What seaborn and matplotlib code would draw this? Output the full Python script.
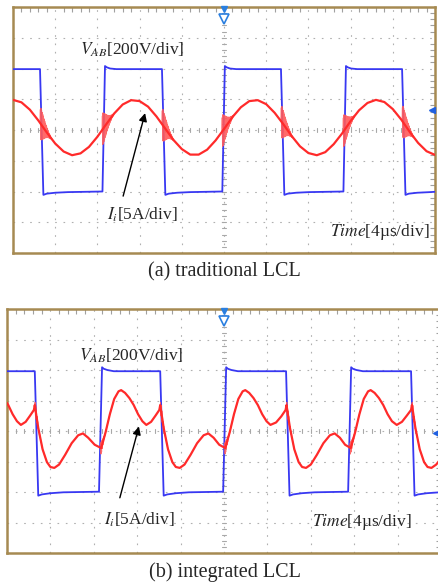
import numpy as np
import matplotlib
matplotlib.use('Agg')
import matplotlib.pyplot as plt
import seaborn as sns

sns.set_style('white')
plt.rcParams['font.family'] = ['Liberation Serif', 'DejaVu Serif']
plt.rcParams['mathtext.fontset'] = 'stix'

# ---- data (time in div, amplitude in div) ----
# (a) traditional LCL
blue_a_t = [0, 0.64, 0.72, 0.80, 1.00, 1.30, 2.12, 2.18, 2.22, 2.30, 2.45,
            3.53, 3.61, 3.69, 3.89, 4.19, 4.96, 5.02, 5.06, 5.14, 5.29,
            6.35, 6.43, 6.51, 6.71, 7.01, 7.83, 7.89, 7.93, 8.01, 8.16,
            9.22, 9.30, 9.38, 9.58, 9.88, 10.0]
blue_a_v = [1.98, 1.98, -2.11, -2.07, -2.04, -2.02, -2.00, 2.08, 2.04, 2.00, 1.98,
            1.98, -2.11, -2.07, -2.04, -2.02, -2.00, 2.08, 2.04, 2.00, 1.98,
            1.98, -2.11, -2.07, -2.04, -2.02, -2.00, 2.08, 2.04, 2.00, 1.98,
            1.98, -2.11, -2.07, -2.04, -2.02, -2.01]

red_a_t = [0.0, 0.2, 0.4, 0.6, 0.8, 1.0, 1.2, 1.4, 1.6, 1.8, 2.0, 2.2, 2.4,
           2.6, 2.8, 3.0, 3.2, 3.4, 3.6, 3.8, 4.0, 4.2, 4.4, 4.6, 4.8, 5.0,
           5.2, 5.4, 5.6, 5.8, 6.0, 6.2, 6.4, 6.6, 6.8, 7.0, 7.2, 7.4, 7.6,
           7.8, 8.0, 8.2, 8.4, 8.6, 8.8, 9.0, 9.2, 9.4, 9.6, 9.8, 10.0]
red_a_v = [0.98, 0.90, 0.66, 0.31, -0.08, -0.44, -0.70, -0.82, -0.76, -0.55,
           -0.22, 0.17, 0.54, 0.83, 0.97, 0.94, 0.76, 0.44, 0.06, -0.32,
           -0.62, -0.80, -0.80, -0.64, -0.34, 0.03, 0.42, 0.74, 0.94, 0.97,
           0.84, 0.56, 0.20, -0.19, -0.53, -0.75, -0.82, -0.72, -0.46, -0.11,
           0.29, 0.64, 0.88, 0.98, 0.91, 0.68, 0.34, -0.06, -0.42, -0.69, -0.81]
edges_a = [0.64, 2.11, 3.53, 4.95, 6.35, 7.82, 9.22]
ring_a = [0, 0.45, -0.50, 0.52, -0.50, 0.48, -0.46, 0.44, -0.42, 0.40, -0.38,
          0.36, -0.34, 0.32, -0.30, 0.28, -0.26, 0.24, -0.22, 0.21, -0.19,
          0.18, -0.16, 0.15, -0.13, 0.12, -0.11, 0.10, -0.09, 0.08, -0.07,
          0.06, -0.05, 0.045, -0.04, 0.03, -0.025, 0.02, -0.01, 0.005, 0]

# (b) integrated LCL
blue_b_t = [0, 0.64, 0.72, 0.80, 1.00, 1.30, 2.12, 2.19, 2.23, 2.31, 2.46,
            3.53, 3.61, 3.69, 3.89, 4.19, 4.98, 5.05, 5.09, 5.17, 5.32,
            6.43, 6.51, 6.59, 6.79, 7.09, 7.86, 7.93, 7.97, 8.05, 8.20,
            9.31, 9.39, 9.47, 9.67, 9.97, 10.0]
blue_b_v = [1.96, 1.96, -2.12, -2.08, -2.04, -2.01, -1.99, 2.09, 2.04, 2.00, 1.96,
            1.96, -2.12, -2.08, -2.04, -2.01, -1.99, 2.09, 2.04, 2.00, 1.96,
            1.96, -2.12, -2.08, -2.04, -2.01, -1.99, 2.09, 2.04, 2.00, 1.96,
            1.96, -2.12, -2.08, -2.04, -2.01, -2.01]

red_b_t = [0.00, 0.03, 0.13, 0.23, 0.32, 0.43, 0.53,
           0.62, 0.64, 0.72, 0.82, 0.92, 1.00, 1.09, 1.20, 1.34, 1.49, 1.64, 1.75, 1.87, 2.02,
           2.17, 2.27, 2.37, 2.47, 2.57, 2.63, 2.72, 2.82, 2.92, 3.02, 3.12, 3.21, 3.32, 3.42,
           3.51, 3.53, 3.61, 3.71, 3.81, 3.89, 3.98, 4.09, 4.23, 4.38, 4.53, 4.64, 4.76, 4.89,
           5.03, 5.13, 5.23, 5.33, 5.43, 5.49, 5.58, 5.68, 5.78, 5.88, 5.98, 6.07, 6.20, 6.32,
           6.42, 6.44, 6.52, 6.62, 6.72, 6.80, 6.89, 7.00, 7.14, 7.29, 7.44, 7.55, 7.67, 7.79,
           7.92, 8.02, 8.12, 8.22, 8.32, 8.38, 8.47, 8.57, 8.67, 8.77, 8.87, 8.98, 9.10, 9.21,
           9.31, 9.33, 9.41, 9.51, 9.61, 9.69, 9.78, 9.89, 10.0]
red_b_v = [0.92, 0.85, 0.55, 0.32, 0.20, 0.30, 0.50,
           0.69, 0.85, 0.10, -0.60, -1.02, -1.18, -1.21, -1.10, -0.78, -0.40, -0.14, -0.08, -0.22, -0.45,
           -0.56, -0.05, 0.55, 1.05, 1.30, 1.34, 1.25, 1.08, 0.85, 0.55, 0.32, 0.20, 0.30, 0.50,
           0.69, 0.85, 0.10, -0.60, -1.02, -1.18, -1.21, -1.10, -0.78, -0.40, -0.14, -0.08, -0.22, -0.45,
           -0.56, -0.05, 0.55, 1.05, 1.30, 1.34, 1.25, 1.08, 0.85, 0.55, 0.32, 0.20, 0.28, 0.48,
           0.69, 0.85, 0.10, -0.60, -1.02, -1.18, -1.21, -1.10, -0.78, -0.40, -0.14, -0.08, -0.22, -0.45,
           -0.56, -0.05, 0.55, 1.05, 1.30, 1.34, 1.25, 1.08, 0.85, 0.55, 0.32, 0.20, 0.30, 0.50,
           0.69, 0.85, 0.10, -0.60, -1.02, -1.18, -1.21, -1.10, -0.90]
edges_b = [0.64, 2.15, 3.53, 5.01, 6.44, 7.90, 9.33]
ring_b = [0, 0.16, -0.20, 0.20, -0.18, 0.16, -0.14, 0.12, -0.10, 0.09, -0.08,
          0.07, -0.06, 0.05, -0.04, 0.03, -0.02, 0.01, 0, 0, 0,
          0, 0, 0, 0, 0, 0, 0, 0, 0, 0,
          0, 0, 0, 0, 0, 0, 0, 0, 0, 0]

ring_dt = [0, 0.0075, 0.015, 0.0225, 0.03, 0.0375, 0.045, 0.0525, 0.06, 0.0675,
           0.075, 0.0825, 0.09, 0.0975, 0.105, 0.1125, 0.12, 0.1275, 0.135, 0.1425,
           0.15, 0.1575, 0.165, 0.1725, 0.18, 0.1875, 0.195, 0.2025, 0.21, 0.2175,
           0.225, 0.2325, 0.24, 0.2475, 0.255, 0.2625, 0.27, 0.2775, 0.285, 0.2925,
           0.30]

BLUE = '#3838f2'
RED = '#ff2a2a'
BORDER = '#a68a52'


def scope(ax, bt, bv, rt, rv, edges, ring):
    ax.set_xlim(0, 10)
    ax.set_ylim(-4, 4)
    ax.set_xticks(np.arange(0, 10.01, 1))
    ax.set_yticks(np.arange(-4, 4.01, 1))
    ax.set_xticks(np.arange(0, 10.01, 0.2), minor=True)
    ax.set_yticks(np.arange(-4, 4.01, 0.2), minor=True)
    ax.tick_params(which='both', direction='in', top=True, right=True,
                   labelbottom=False, labelleft=False, color='#a0a0a0')
    ax.tick_params(which='major', length=0)
    ax.tick_params(which='minor', length=3.5, width=0.8)
    ax.grid(True, which='major', color='#b0b0b0', linestyle=(0, (1.5, 6)), lw=0.8)
    for s in ax.spines.values():
        s.set_color(BORDER)
        s.set_linewidth(1.8)
    # center axis tick marks
    for xm in np.arange(0.2, 10, 0.2):
        ax.plot([xm, xm], [-0.07, 0.07], color='#a8a8a8', lw=0.8, zorder=1)
    for ym in np.arange(-3.8, 4, 0.2):
        ax.plot([4.95, 5.05], [ym, ym], color='#a8a8a8', lw=0.8, zorder=1)

    sns.lineplot(x=bt, y=bv, ax=ax, sort=False, estimator=None,
                 color=BLUE, lw=1.3, zorder=3)
    for e in edges:
        tt = np.array(ring_dt) + e
        yy = np.interp(tt, rt, rv) + np.array(ring)
        ax.plot(tt, yy, color='#ff5a5a', lw=0.7, alpha=0.9, zorder=4)
    sns.lineplot(x=rt, y=rv, ax=ax, sort=False, estimator=None,
                 color=RED, lw=1.6, zorder=5)
    ax.set_xlabel('')
    ax.set_ylabel('')


fig = plt.figure(figsize=(4.38, 5.82), dpi=100)
ax1 = fig.add_axes([13 / 438, 1 - 253 / 582, 422 / 438, 246 / 582])
ax2 = fig.add_axes([7 / 438, 1 - 553 / 582, 434 / 438, 244 / 582])

scope(ax1, blue_a_t, blue_a_v, red_a_t, red_a_v, edges_a, ring_a)
scope(ax2, blue_b_t, blue_b_v, red_b_t, red_b_v, edges_b, ring_b)

fs = 12.5
# panel (a) labels
ax1.text(2.83, 2.6, r'$V_{AB}$[200V/div]', ha='center', va='center', fontsize=fs)
ax1.text(3.07, -2.76, r'$I_i$[5A/div]', ha='center', va='center', fontsize=fs)
ax1.text(9.86, -3.32, r'$Time$[4µs/div]', ha='right', va='center', fontsize=fs)
ax1.annotate('', xy=(3.13, 0.55), xytext=(2.61, -2.15),
             arrowprops=dict(arrowstyle='-|>', color='black', lw=1.0,
                             mutation_scale=12, shrinkA=0, shrinkB=0))
# panel (b) labels
ax2.text(2.85, 2.48, r'$V_{AB}$[200V/div]', ha='center', va='center', fontsize=fs)
ax2.text(3.04, -2.91, r'$I_i$[5A/div]', ha='center', va='center', fontsize=fs)
ax2.text(9.31, -3.0, r'$Time$[4µs/div]', ha='right', va='center', fontsize=fs)
ax2.annotate('', xy=(3.04, 0.15), xytext=(2.60, -2.19),
             arrowprops=dict(arrowstyle='-|>', color='black', lw=1.0,
                             mutation_scale=12, shrinkA=0, shrinkB=0))

# trigger / channel markers
for ax, ry, rx in [(ax1, 0.65, 9.93), (ax2, -0.05, 9.88)]:
    ax.plot(5.0, 3.92, marker='v', color='#2a7fe0', ms=5, clip_on=False, zorder=6)
    ax.plot(5.0, 3.6, marker='v', mfc='white', mec='#2a7fe0', mew=1.2, ms=7,
            clip_on=False, zorder=6)
    ax.plot(rx, ry, marker='<', color='#2060e0', ms=5, clip_on=False, zorder=6)

fig.text(224.5 / 438, 1 - 272 / 582, '(a) traditional LCL', ha='center',
         va='center', fontsize=14.5)
fig.text(224.5 / 438, 1 - 572 / 582, '(b) integrated LCL', ha='center',
         va='center', fontsize=14.5)

fig.savefig('out.png', dpi=100, facecolor='white')
